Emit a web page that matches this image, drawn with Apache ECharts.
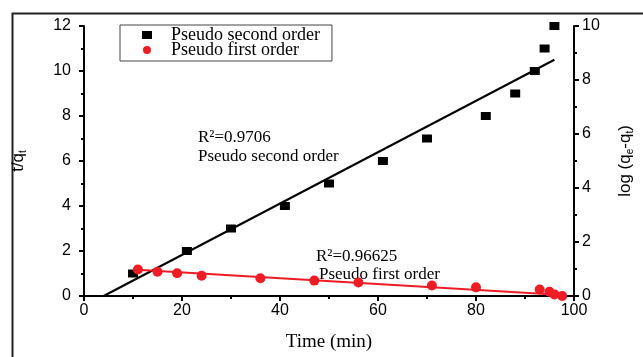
<!DOCTYPE html>
<html>
<head>
<meta charset="utf-8">
<script src="https://cdn.jsdelivr.net/npm/echarts@6/dist/echarts.min.js"></script>
<style>
  html, body { margin: 0; padding: 0; background: #fff; }
  #chart { width: 643px; height: 357px; }
</style>
</head>
<body>
<div id="chart"></div>
<script>
// Kinetic data: time (min) vs t/qt (pseudo second order, left axis)
const secondOrderPoints = [
  [10, 1], [21, 2], [30, 3], [41, 4], [50, 5], [61, 6],
  [70, 7], [82, 8], [88, 9], [92, 10], [94, 11], [96, 12]
];
// time (min) vs log(qe - qt) (pseudo first order, right axis)
const firstOrderPoints = [
  [11, 0.98], [15, 0.9], [19, 0.84], [24, 0.75], [36, 0.66], [47, 0.57],
  [56, 0.5], [71, 0.39], [80, 0.32], [93, 0.24], [95, 0.16], [96, 0.06], [97.6, 0.0]
];
// Linear fit end points
const secondOrderFit = [[4, 0], [96, 10.5]];
const firstOrderFit = [[10, 0.98], [98.5, 0.03]];

const xTicks = { min: 0, max: 100, interval: 20 };
const leftTicks = { min: 0, max: 12, interval: 2 };
const rightTicks = { min: 0, max: 10, interval: 2 };

const fitLabels = [
  { r2: 'R²=0.9706', model: 'Pseudo second order' },
  { r2: 'R²=0.96625', model: 'Pseudo first order' }
];

const RED = '#ee1c24';
const serif = 'Liberation Serif';
const sans = 'Liberation Sans';

const chart = echarts.init(document.getElementById('chart'), null, { renderer: 'canvas' });

const axisCommon = {
  axisLine: { show: true, lineStyle: { color: '#000', width: 2 } },
  axisTick: { show: true, inside: false, length: 5, lineStyle: { color: '#000', width: 2 } },
  minorTick: { show: true, splitNumber: 2, length: 3, lineStyle: { color: '#000', width: 2 } },
  splitLine: { show: false },
  axisLabel: { color: '#000', fontFamily: sans, fontSize: 16 }
};

const subRich = {
  m: { fontFamily: sans, fontSize: 17, color: '#000' },
  s: { fontFamily: sans, fontSize: 10, color: '#000', padding: [9, 0, 0, 0] }
};

chart.setOption({
  animation: false,
  backgroundColor: '#fff',
  grid: { left: 84, right: 61, top: 26, bottom: 52, containLabel: false },
  legend: {
    left: 120, top: 25,
    orient: 'vertical',
    itemGap: -3,
    itemWidth: 10, itemHeight: 8,
    padding: [1, 12, 2, 22],
    borderColor: '#444', borderWidth: 1,
    textStyle: { fontFamily: serif, fontSize: 18, color: '#000', padding: [0, 0, 0, 14] },
    data: [
      { name: 'Pseudo second order', icon: 'rect' },
      { name: 'Pseudo first order', icon: 'circle' }
    ]
  },
  xAxis: Object.assign({}, axisCommon, {
    type: 'value',
    min: xTicks.min, max: xTicks.max, interval: xTicks.interval,
    name: 'Time (min)',
    nameLocation: 'middle',
    nameGap: 37,
    nameTextStyle: { fontFamily: serif, fontSize: 19, color: '#000' },
    axisLabel: Object.assign({}, axisCommon.axisLabel, { margin: 7 })
  }),
  yAxis: [
    Object.assign({}, axisCommon, {
      type: 'value',
      position: 'left',
      min: leftTicks.min, max: leftTicks.max, interval: leftTicks.interval,
      name: '{m|t/q}{s|t}',
      nameLocation: 'middle',
      nameRotate: 90,
      nameGap: 56,
      nameTextStyle: { fontFamily: sans, fontSize: 17, color: '#000', rich: subRich },
      axisLabel: Object.assign({}, axisCommon.axisLabel, { margin: 13 })
    }),
    Object.assign({}, axisCommon, {
      type: 'value',
      position: 'right',
      min: rightTicks.min, max: rightTicks.max, interval: rightTicks.interval,
      name: '{m|log (q}{s|e}{m|-q}{s|t}{m|)}',
      nameLocation: 'middle',
      nameRotate: 90,
      nameGap: 42,
      nameTextStyle: { fontFamily: sans, fontSize: 17, color: '#000', rich: subRich },
      axisLabel: Object.assign({}, axisCommon.axisLabel, { margin: 8 })
    })
  ],
  series: [
    {
      name: 'Pseudo second order fit',
      type: 'line',
      yAxisIndex: 0,
      data: secondOrderFit,
      symbol: 'none',
      lineStyle: { color: '#000', width: 2 },
      z: 2
    },
    {
      name: 'Pseudo first order fit',
      type: 'line',
      yAxisIndex: 1,
      data: firstOrderFit,
      symbol: 'none',
      lineStyle: { color: RED, width: 2 },
      z: 2
    },
    {
      name: 'Pseudo second order',
      type: 'scatter',
      yAxisIndex: 0,
      data: secondOrderPoints,
      symbol: 'rect',
      symbolSize: [10, 8],
      itemStyle: { color: '#000', opacity: 1 },
      z: 3
    },
    {
      name: 'Pseudo first order',
      type: 'scatter',
      yAxisIndex: 1,
      data: firstOrderPoints,
      symbol: 'circle',
      symbolSize: 10,
      itemStyle: { color: RED, opacity: 1 },
      z: 3
    }
  ],
  graphic: [
    {
      type: 'rect',
      left: 10, top: 11,
      shape: { width: 700, height: 400 },
      style: { fill: 'none', stroke: '#222', lineWidth: 2 },
      silent: true, z: 0
    },
    {
      type: 'text', left: 198, top: 129,
      style: { text: fitLabels[0].r2, fontFamily: serif, fontSize: 17, fill: '#000' }
    },
    {
      type: 'text', left: 198, top: 148,
      style: { text: fitLabels[0].model, fontFamily: serif, fontSize: 17, fill: '#000' }
    },
    {
      type: 'text', left: 316, top: 248,
      style: { text: fitLabels[1].r2, fontFamily: serif, fontSize: 17, fill: '#000' }
    },
    {
      type: 'text', left: 319, top: 266,
      style: { text: fitLabels[1].model, fontFamily: serif, fontSize: 17, fill: '#000' }
    }
  ]
});
</script>
</body>
</html>
